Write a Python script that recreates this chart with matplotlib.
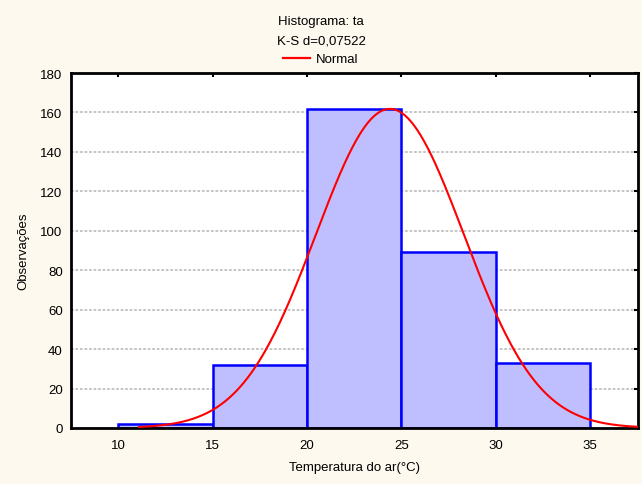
import numpy as np
import matplotlib
matplotlib.use("Agg")
import matplotlib.pyplot as plt
from matplotlib.lines import Line2D

plt.rcParams['font.family'] = ['Liberation Sans', 'DejaVu Sans']

bin_edges = [10, 15, 20, 25, 30, 35]
counts = [2, 32, 162, 89, 33]
normal_mean = 24.4
normal_sd = 3.92
curve_start = 11.1
curve_end = 37.5
yticks = [0, 20, 40, 60, 80, 100, 120, 140, 160, 180]
xticks = [10, 15, 20, 25, 30, 35]

fig = plt.figure(figsize=(6.42, 4.85), dpi=100, facecolor='#FDF9EE')
ax = fig.add_axes([0.1106, 0.1155, 0.8832, 0.7319])
ax.set_facecolor('white')

lefts = bin_edges[:-1]
widths = np.diff(bin_edges)
ax.bar(lefts, counts, width=widths, align='edge', color='#BFBFFF',
       edgecolor='#0000FF', linewidth=1.8, zorder=2)

n = sum(counts)
bw = widths[0]
xs = np.linspace(curve_start, curve_end, 400)
ys = n * bw / (normal_sd * np.sqrt(2 * np.pi)) * np.exp(-0.5 * ((xs - normal_mean) / normal_sd) ** 2)
ax.plot(xs, ys, color='#FF0000', linewidth=1.5, zorder=3)

ax.set_xlim(7.5, 37.55)
ax.set_ylim(0, 180)
ax.set_xticks(xticks)
ax.set_yticks(yticks)
ax.yaxis.grid(True, color='#C0C0C0', linestyle=(0, (1.5, 1)), linewidth=1.3, zorder=0)
ax.set_axisbelow(True)
for s in ax.spines.values():
    s.set_linewidth(2)
    s.set_color('black')
ax.tick_params(axis='both', which='both', direction='in', length=3, width=1.5,
               labelsize=9.5, top=True, right=True, left=False, bottom=False, pad=8)
ax.tick_params(axis='y', pad=6)

ax.set_xlabel('Temperatura do ar(°C)', fontsize=9.5, labelpad=7)
ax.set_ylabel('Observações', fontsize=9.5, labelpad=8)

fig.text(0.5, 1 - 22 / 485, 'Histograma: ta', ha='center', va='center', fontsize=9.5)
fig.text(0.5, 1 - 42 / 485, 'K-S d=0,07522', ha='center', va='center', fontsize=9.5)
leg = fig.legend(handles=[Line2D([0], [0], color='#FF0000', linewidth=1.6)],
                 labels=['Normal'], loc='center', bbox_to_anchor=(0.5, 1 - 60 / 485),
                 frameon=False, fontsize=9.5, handlelength=2.0, handletextpad=0.5,
                 borderpad=0, borderaxespad=0)

fig.savefig('out.png', dpi=100, facecolor=fig.get_facecolor())
